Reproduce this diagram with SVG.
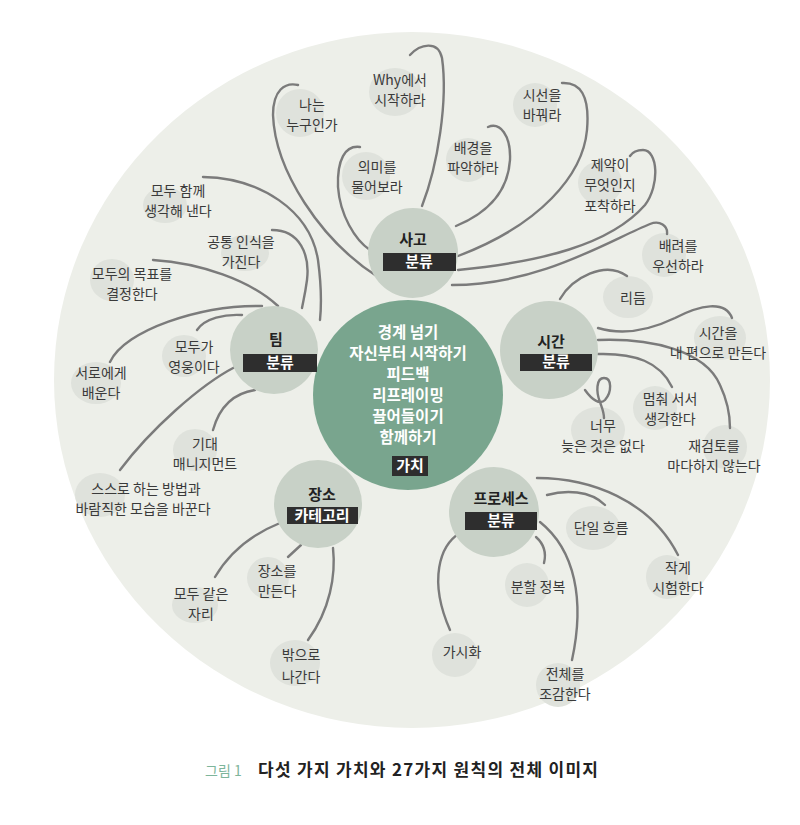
<svg xmlns="http://www.w3.org/2000/svg" width="800" height="825" viewBox="0 0 800 825">
<style>
.bg{fill:#edefe9}
.blob{fill:#dfe2dc}
.cat{fill:#c8d1c7}
.box{fill:#2e2e2e}
.t{font-family:"Noto Sans CJK KR","Noto Sans",sans-serif;font-size:14px;fill:#3a3a3a;text-anchor:middle}
.ct{font-family:"Noto Sans CJK KR","Noto Sans",sans-serif;font-size:15px;font-weight:bold;fill:#222;text-anchor:middle}
.bt{font-family:"Noto Sans CJK KR","Noto Sans",sans-serif;font-size:15px;font-weight:bold;fill:#fff;text-anchor:middle}
.vt{font-family:"Noto Sans CJK KR","Noto Sans",sans-serif;font-size:15.5px;font-weight:bold;fill:#fff;text-anchor:middle}
.c path{fill:none;stroke:#7b7b7b;stroke-width:2.4;stroke-linecap:round}
</style>
<rect width="800" height="825" fill="#fff"/>
<ellipse class="bg" cx="412" cy="380" rx="358" ry="348"/>

<g id="blobs">
<ellipse class="blob" cx="395" cy="92" rx="26" ry="24"/>
<ellipse class="blob" cx="300" cy="113" rx="24" ry="24"/>
<ellipse class="blob" cx="366" cy="176" rx="24" ry="24"/>
<ellipse class="blob" cx="468" cy="160" rx="22" ry="22"/>
<ellipse class="blob" cx="535" cy="105" rx="22" ry="22"/>
<ellipse class="blob" cx="600" cy="183" rx="22" ry="22"/>
<ellipse class="blob" cx="664" cy="255" rx="22" ry="22"/>
<ellipse class="blob" cx="628" cy="297" rx="25" ry="21"/>
<ellipse class="blob" cx="720" cy="338" rx="26" ry="22"/>
<ellipse class="blob" cx="655" cy="408" rx="22" ry="22"/>
<ellipse class="blob" cx="598" cy="430" rx="27" ry="23"/>
<ellipse class="blob" cx="725" cy="447" rx="22" ry="22"/>
<ellipse class="blob" cx="165" cy="205" rx="22" ry="18"/>
<ellipse class="blob" cx="245" cy="253" rx="24" ry="18"/>
<ellipse class="blob" cx="112" cy="280" rx="22" ry="21"/>
<ellipse class="blob" cx="184" cy="356" rx="22" ry="21"/>
<ellipse class="blob" cx="96" cy="383" rx="25" ry="21"/>
<ellipse class="blob" cx="195" cy="450" rx="22" ry="21"/>
<ellipse class="blob" cx="100" cy="495" rx="25" ry="22"/>
<ellipse class="blob" cx="268" cy="578" rx="21" ry="21"/>
<ellipse class="blob" cx="195" cy="605" rx="23" ry="18"/>
<ellipse class="blob" cx="295" cy="663" rx="25" ry="23"/>
<ellipse class="blob" cx="593" cy="528" rx="27" ry="22"/>
<ellipse class="blob" cx="667" cy="577" rx="21" ry="22"/>
<ellipse class="blob" cx="527" cy="585" rx="22" ry="22"/>
<ellipse class="blob" cx="455" cy="655" rx="23" ry="22"/>
<ellipse class="blob" cx="558" cy="685" rx="22" ry="22"/>
</g>

<g id="connectors" class="c">
<path d="M410 55 C420 44,438 40,442 58 C448 100,438 165,422 206"/>
<path d="M298 85 C285 82,273 90,273 115 C275 170,320 240,378 277"/>
<path d="M360 147 C345 145,337 160,338 187 C340 215,355 240,370 250"/>
<path d="M488 127 C500 122,511 135,510 160 C508 190,490 212,456 226"/>
<path d="M562 83 C580 82,590 95,587 130 C583 175,540 225,458 256"/>
<path d="M458 270 C540 262,610 245,645 205 C660 185,658 150,643 150 C636 150,632 153,630 156"/>
<path d="M452 285 C540 285,610 240,650 224 C660 220,668 226,667 234"/>
<path d="M560 299 C572 278,605 260,627 276"/>
<path d="M598 328 C625 336,650 330,675 318 C700 305,725 300,732 318"/>
<path d="M598 340 C650 338,705 350,720 385 C728 402,730 415,730 428"/>
<path d="M598 354 C635 353,660 362,672 387"/>
<path d="M585 390 C592 400,600 405,605 400 C612 392,612 378,604 378 C596 378,596 392,600 402 C602 408,604 412,604 418"/>
<path d="M203 177 C260 178,310 210,318 260 C322 290,321 310,320 320"/>
<path d="M272 230 C300 230,310 255,307 280 C305 295,303 302,302 308"/>
<path d="M153 260 C200 263,250 280,278 306"/>
<path d="M110 362 C125 330,200 305,262 306"/>
<path d="M197 330 C205 318,225 314,242 315"/>
<path d="M235 367 C200 385,150 430,120 470"/>
<path d="M255 390 C235 393,220 405,213 430"/>
<path d="M280 523 C250 535,228 555,215 577"/>
<path d="M301 545 L288 557"/>
<path d="M333 548 C336 575,330 610,308 640"/>
<path d="M537 478 C590 478,650 500,678 555"/>
<path d="M547 495 C565 490,590 490,605 505"/>
<path d="M540 522 C575 550,585 600,572 660"/>
<path d="M536 537 C545 545,546 555,544 563"/>
<path d="M460 533 C440 545,428 580,450 630"/>
</g>

<g id="value">
<circle cx="408" cy="395" r="95" fill="#79a58e"/>
<text class="vt" x="408" y="338">경계 넘기</text>
<text class="vt" x="408" y="359">자신부터 시작하기</text>
<text class="vt" x="408" y="380">피드백</text>
<text class="vt" x="408" y="401">리프레이밍</text>
<text class="vt" x="408" y="422">끌어들이기</text>
<text class="vt" x="408" y="443">함께하기</text>
<rect class="box" x="392" y="456" width="36" height="20"/>
<text class="bt" x="410" y="471">가치</text>
</g>

<g id="cat-sago">
<circle class="cat" cx="413" cy="253" r="45"/>
<text class="ct" x="413" y="245">사고</text>
<rect class="box" x="383" y="253" width="73" height="18"/>
<text class="bt" x="419" y="267">분류</text>
</g>
<g id="cat-team">
<circle class="cat" cx="274" cy="350" r="44"/>
<text class="ct" x="276" y="345">팀</text>
<rect class="box" x="243" y="354" width="74" height="18"/>
<text class="bt" x="280" y="368">분류</text>
</g>
<g id="cat-time">
<circle class="cat" cx="549" cy="350" r="49"/>
<text class="ct" x="551" y="347">시간</text>
<rect class="box" x="520" y="354" width="72" height="17"/>
<text class="bt" x="556" y="367">분류</text>
</g>
<g id="cat-place">
<circle class="cat" cx="318" cy="504" r="44"/>
<text class="ct" x="322" y="500">장소</text>
<rect class="box" x="287" y="507" width="71" height="17"/>
<text class="bt" x="322" y="521">카테고리</text>
</g>
<g id="cat-process">
<circle class="cat" cx="494" cy="512" r="45"/>
<text class="ct" x="501" y="504">프로세스</text>
<rect class="box" x="465" y="512" width="72" height="18"/>
<text class="bt" x="501" y="526">분류</text>
</g>

<g id="leaf-why"><text class="t" x="400" y="85">Why에서</text><text class="t" x="400" y="104.5">시작하라</text></g>
<g id="leaf-who"><text class="t" x="312" y="110">나는</text><text class="t" x="312" y="129.5">누구인가</text></g>
<g id="leaf-meaning"><text class="t" x="377" y="172">의미를</text><text class="t" x="377" y="192">물어보라</text></g>
<g id="leaf-context"><text class="t" x="473" y="153">배경을</text><text class="t" x="473" y="173">파악하라</text></g>
<g id="leaf-view"><text class="t" x="542" y="100">시선을</text><text class="t" x="542" y="119.5">바꿔라</text></g>
<g id="leaf-limit"><text class="t" x="610" y="170">제약이</text><text class="t" x="610" y="190">무엇인지</text><text class="t" x="610" y="211">포착하라</text></g>
<g id="leaf-care"><text class="t" x="678" y="251">배려를</text><text class="t" x="678" y="270.5">우선하라</text></g>
<g id="leaf-rhythm"><text class="t" x="633" y="303">리듬</text></g>
<g id="leaf-timeside"><text class="t" x="718" y="338">시간을</text><text class="t" x="718" y="358">내 편으로 만든다</text></g>
<g id="leaf-stop"><text class="t" x="670" y="404">멈춰 서서</text><text class="t" x="670" y="423.5">생각한다</text></g>
<g id="leaf-late"><text class="t" x="603" y="431">너무</text><text class="t" x="603" y="450.5">늦은 것은 없다</text></g>
<g id="leaf-review"><text class="t" x="714" y="451">재검토를</text><text class="t" x="714" y="470.5">마다하지 않는다</text></g>
<g id="leaf-think"><text class="t" x="178" y="196">모두 함께</text><text class="t" x="178" y="215.5">생각해 낸다</text></g>
<g id="leaf-common"><text class="t" x="241" y="247">공통 인식을</text><text class="t" x="241" y="266.5">가진다</text></g>
<g id="leaf-goal"><text class="t" x="132" y="279">모두의 목표를</text><text class="t" x="132" y="298.5">결정한다</text></g>
<g id="leaf-hero"><text class="t" x="194" y="352">모두가</text><text class="t" x="194" y="371.5">영웅이다</text></g>
<g id="leaf-learn"><text class="t" x="101" y="378">서로에게</text><text class="t" x="101" y="397.5">배운다</text></g>
<g id="leaf-expect"><text class="t" x="205" y="449">기대</text><text class="t" x="205" y="468.5">매니지먼트</text></g>
<g id="leaf-self"><text class="t" x="146" y="494">스스로 하는 방법과</text><text class="t" x="143" y="513.5">바람직한 모습을 바꾼다</text></g>
<g id="leaf-makeplace"><text class="t" x="277" y="576">장소를</text><text class="t" x="277" y="595.5">만든다</text></g>
<g id="leaf-seat"><text class="t" x="201" y="599">모두 같은</text><text class="t" x="201" y="618.5">자리</text></g>
<g id="leaf-out"><text class="t" x="301" y="660">밖으로</text><text class="t" x="301" y="682">나간다</text></g>
<g id="leaf-flow"><text class="t" x="601" y="533">단일 흐름</text></g>
<g id="leaf-small"><text class="t" x="678" y="573">작게</text><text class="t" x="678" y="592.5">시험한다</text></g>
<g id="leaf-divide"><text class="t" x="538" y="592">분할 정복</text></g>
<g id="leaf-visual"><text class="t" x="462" y="657">가시화</text></g>
<g id="leaf-overview"><text class="t" x="565" y="679">전체를</text><text class="t" x="565" y="698.5">조감한다</text></g>

<g id="caption">
<text x="205" y="776" font-family="Noto Sans CJK KR, sans-serif" font-size="14" fill="#7db59b">그림 1</text>
<text x="258" y="776" font-family="Noto Sans CJK KR, sans-serif" font-size="17" font-weight="bold" fill="#222" textLength="340" lengthAdjust="spacing">다섯 가지 가치와 27가지 원칙의 전체 이미지</text>
</g>
</svg>
